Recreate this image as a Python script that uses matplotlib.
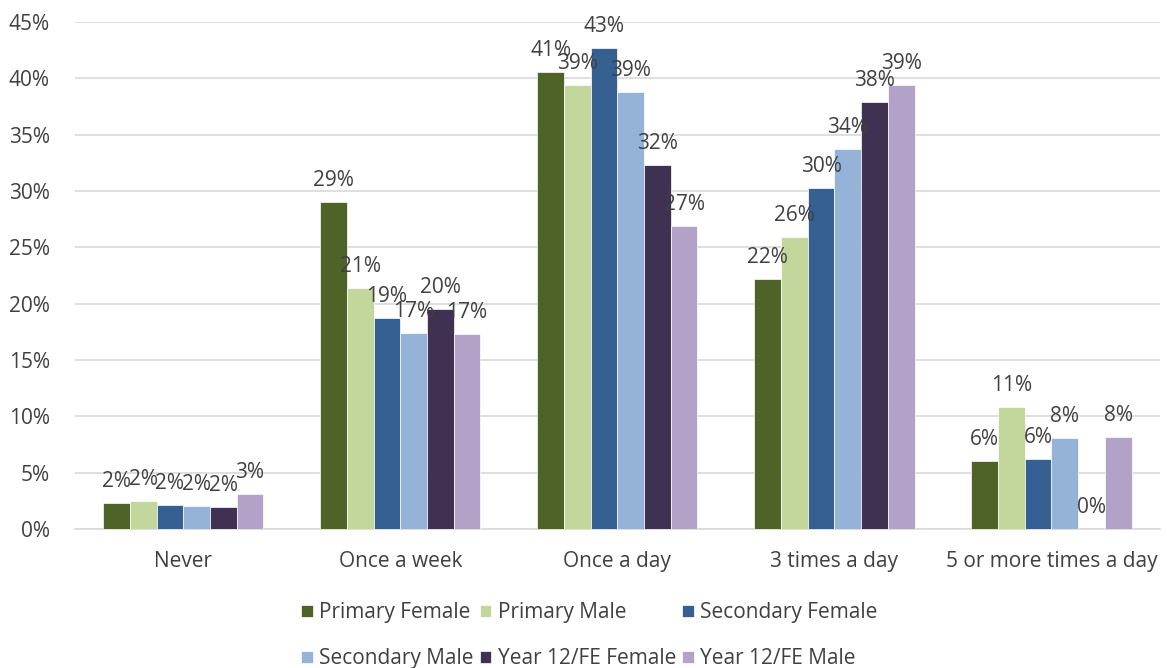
import matplotlib.pyplot as plt
import matplotlib.ticker as mticker
import numpy as np

plt.rcParams['font.family'] = ['Open Sans', 'DejaVu Sans']

categories = ['Never', 'Once a week', 'Once a day', '3 times a day', '5 or more times a day']
series_names = ['Primary Female', 'Primary Male', 'Secondary Female',
                'Secondary Male', 'Year 12/FE Female', 'Year 12/FE Male']
primary_female = [2.3, 29.0, 40.6, 22.2, 6.0]
primary_male = [2.5, 21.4, 39.4, 25.9, 10.8]
secondary_female = [2.1, 18.7, 42.7, 30.3, 6.2]
secondary_male = [2.05, 17.4, 38.8, 33.7, 8.1]
year12_female = [1.95, 19.5, 32.3, 37.9, 0.0]
year12_male = [3.1, 17.3, 26.9, 39.4, 8.2]
colors = ['#4F6228', '#C3D69B', '#366092', '#95B3D7', '#3F3151', '#B3A2C7']

series = [primary_female, primary_male, secondary_female,
          secondary_male, year12_female, year12_male]

text_col = '#404040'
grid_col = '#D9D9D9'
fs = 15

fig = plt.figure(figsize=(11.67, 6.68), dpi=100)
ax = fig.add_axes([0.064, 0.208, 0.930, 0.759])

x = np.arange(len(categories))
w = 0.123
handles = []
for i, vals in enumerate(series):
    pos = x + (i - 2.5) * w
    v = np.array(vals) / 100
    b = ax.bar(pos, v, w, color=colors[i], label=series_names[i],
               edgecolor='white', linewidth=0.5, zorder=3)
    handles.append(b)
    for px, pv, raw in zip(pos, v, vals):
        ax.annotate('{:.0f}%'.format(raw), (px, pv), xytext=(0, 8),
                    textcoords='offset points', ha='center', va='bottom',
                    fontsize=fs, color=text_col, zorder=4)

ax.set_ylim(0, 0.45)
ax.set_xlim(-0.5, len(categories) - 0.5)
ax.yaxis.set_major_locator(mticker.MultipleLocator(0.05))
ax.yaxis.set_major_formatter(mticker.FuncFormatter(lambda v, p: '{:.0f}%'.format(v * 100)))
ax.set_xticks(x)
ax.set_xticklabels(categories)
ax.tick_params(axis='both', length=0, labelsize=fs, labelcolor=text_col)
ax.tick_params(axis='x', pad=16)
ax.tick_params(axis='y', pad=18)
ax.grid(axis='y', color=grid_col, linewidth=1.2, zorder=0)
for s in ['top', 'right', 'left']:
    ax.spines[s].set_visible(False)
ax.spines['bottom'].set_color(grid_col)
ax.spines['bottom'].set_linewidth(1.2)

order = [0, 3, 1, 4, 2, 5]
leg = fig.legend([handles[i] for i in order], [series_names[i] for i in order],
                 loc='lower center', bbox_to_anchor=(0.505, -0.03), ncol=3,
                 frameon=False, fontsize=fs, handlelength=0.55, handleheight=0.55,
                 handletextpad=0.3, columnspacing=0.3, labelspacing=1.2)
for t in leg.get_texts():
    t.set_color(text_col)

fig.savefig('out.png')
